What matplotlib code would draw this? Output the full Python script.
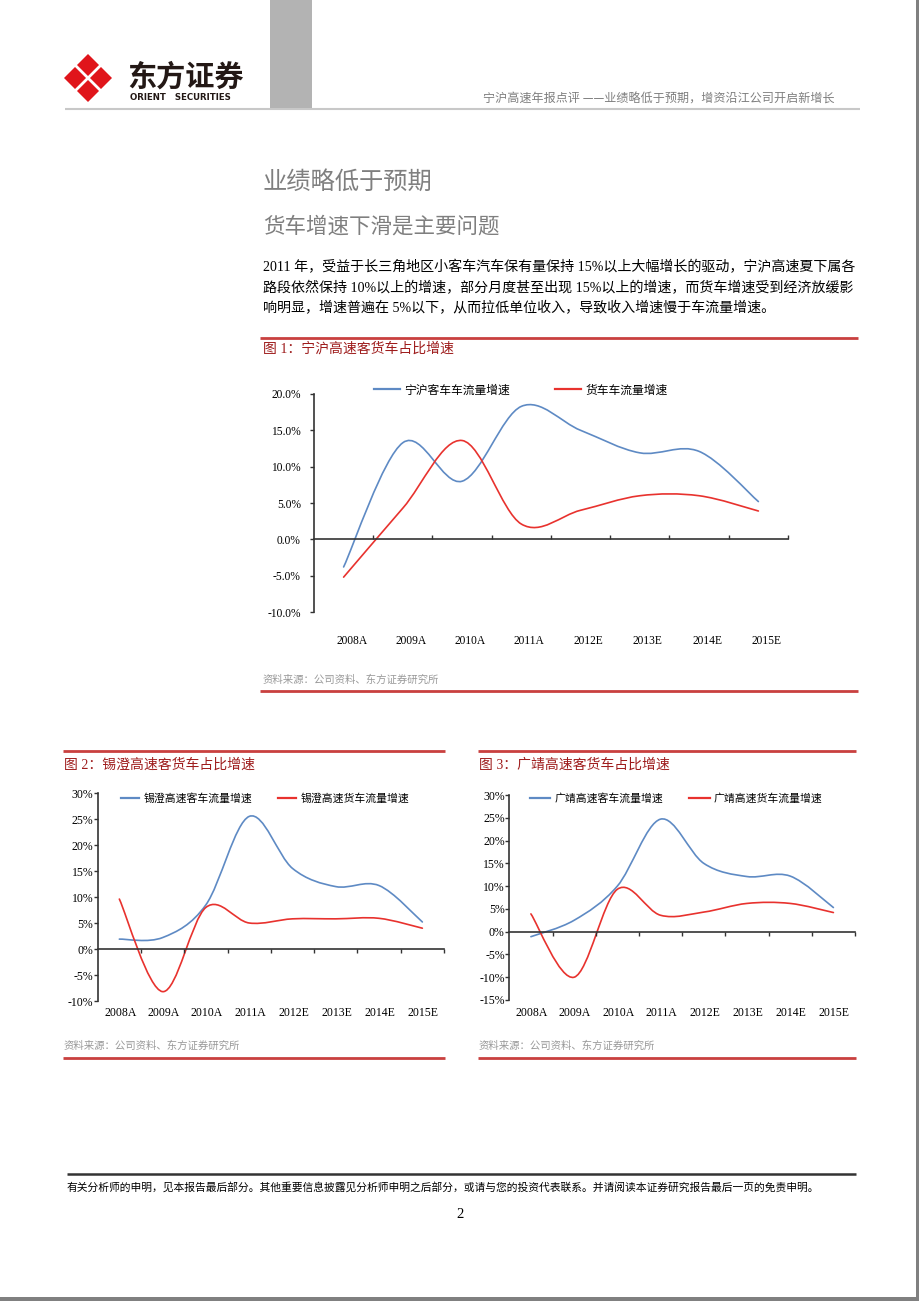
import matplotlib
matplotlib.use('Agg')
import matplotlib.pyplot as plt
import matplotlib.transforms as mtransforms
import numpy as np
from matplotlib.path import Path
from matplotlib.patches import PathPatch, Polygon, Rectangle
from matplotlib.lines import Line2D
from matplotlib.ticker import FuncFormatter

plt.rcParams['font.family'] = ['Noto Sans CJK SC', 'DejaVu Sans']

W, H = 920, 1301
BLUE = '#5E8AC4'
RED = '#E8322E'
DARKRED = '#9E1C1C'
RULE = '#C9403F'
GRAY = '#7F7F7F'
SERIF = ['Liberation Serif', 'Noto Sans CJK SC']

years = ['2008A', '2009A', '2010A', '2011A', '2012E', '2013E', '2014E', '2015E']

# fig 1: 宁沪高速
nh_names = ['宁沪客车车流量增速', '货车车流量增速']
nh_bus = [-3.8, 13.3, 8.0, 18.3, 15.0, 11.9, 12.1, 5.2]
nh_truck = [-5.2, 4.3, 13.6, 2.1, 4.0, 6.0, 6.0, 3.9]

# fig 2: 锡澄高速
xc_names = ['锡澄高速客车流量增速', '锡澄高速货车流量增速']
xc_bus = [1.9, 2.2, 8.5, 25.5, 15.5, 12.0, 12.2, 5.2]
xc_truck = [9.6, -8.2, 8.0, 5.0, 5.8, 5.8, 5.9, 4.0]

# fig 3: 广靖高速
gj_names = ['广靖高速客车流量增速', '广靖高速货车流量增速']
gj_bus = [-1.1, 2.5, 10.0, 24.7, 15.0, 12.1, 12.2, 5.3]
gj_truck = [3.9, -10.0, 9.3, 3.6, 4.3, 6.2, 6.2, 4.2]

header = '宁沪高速年报点评 ——业绩略低于预期，增资沿江公司开启新增长'
title1 = '业绩略低于预期'
title2 = '货车增速下滑是主要问题'
para = ['2011 年，受益于长三角地区小客车汽车保有量保持 15%以上大幅增长的驱动，宁沪高速夏下属各',
        '路段依然保持 10%以上的增速，部分月度甚至出现 15%以上的增速，而货车增速受到经济放缓影',
        '响明显，增速普遍在 5%以下，从而拉低单位收入，导致收入增速慢于车流量增速。']
source = '资料来源：公司资料、东方证券研究所'
footer = '有关分析师的申明，见本报告最后部分。其他重要信息披露见分析师申明之后部分，或请与您的投资代表联系。并请阅读本证券研究报告最后一页的免责申明。'


def smooth(x, y):
    # excel-style smoothed line: bezier through every point
    pts = np.column_stack([np.asarray(x, float), np.asarray(y, float)])
    n = len(pts)
    verts = [pts[0]]
    codes = [Path.MOVETO]
    for i in range(n - 1):
        p0 = pts[max(i - 1, 0)]
        p1, p2 = pts[i], pts[i + 1]
        p3 = pts[min(i + 2, n - 1)]
        verts += [p1 + (p2 - p0) / 6, p2 - (p3 - p1) / 6, p2]
        codes += [Path.CURVE4] * 3
    return Path(verts, codes)


fig = plt.figure(figsize=(W / 100, H / 100), dpi=100)

# page layer in pixel units
bg = fig.add_axes([0, 0, 1, 1])
bg.set_xlim(0, W)
bg.set_ylim(H, 0)
bg.axis('off')


def hline(y, x0, x1, color, lw):
    bg.plot([x0, x1], [y, y], color=color, lw=lw, solid_capstyle='butt')


# header
bg.add_patch(Rectangle((270, 0), 42, 108, color='#B3B3B3', lw=0))
hline(109, 65, 860, '#C8C8C8', 1.5)
bg.add_patch(Polygon([(88, 54), (112, 78), (88, 102), (64, 78)], closed=True, color='#E0151B', lw=0))
bg.plot([76, 100], [66, 90], color='white', lw=2.0)
bg.plot([100, 76], [66, 90], color='white', lw=2.0)
bg.text(127, 77, '东方证券', fontsize=21, fontweight='bold', color='#231815', va='center')
bg.text(130, 98, 'ORIENT   SECURITIES', fontsize=6.2, fontweight='bold', color='#231815', va='center',
        family='DejaVu Sans')
bg.text(835, 99, header, fontsize=8.7, color=GRAY, ha='right', va='center')

# page border
bg.add_patch(Rectangle((916, 0), 4, H, color='#808080', lw=0))
bg.add_patch(Rectangle((0, 1297), W, 4, color='#808080', lw=0))

# body text
bg.text(263, 182, title1, fontsize=17.5, color=GRAY, va='center')
bg.text(263, 227, title2, fontsize=15.5, color=GRAY, va='center')
for y, line in zip([267, 288, 308], para):
    bg.text(263, y, line, fontsize=10.1, color='black', va='center', family=SERIF)

hline(338, 260, 858, RULE, 2)
bg.text(263, 349, '图 1：宁沪高速客货车占比增速', fontsize=10, color=DARKRED, va='center', family=SERIF)
bg.text(263, 680, source, fontsize=7.5, color='#999999', va='center')
hline(691, 260, 858, RULE, 2)

for x0, x1, num, name in [(63, 445, 2, '锡澄'), (478, 856, 3, '广靖')]:
    hline(751, x0, x1, RULE, 2)
    bg.text(x0 + 1, 765, f'图 {num}：{name}高速客货车占比增速', fontsize=10, color=DARKRED,
            va='center', family=SERIF)
    bg.text(x0 + 1, 1046, source, fontsize=7.5, color='#999999', va='center')
    hline(1058, x0, x1, RULE, 2)

# footer
hline(1174, 67, 856, '#333333', 1.8)
bg.text(67, 1187, footer, fontsize=7.75, color='black', va='center')
bg.text(460, 1215, '2', fontsize=10.5, color='black', ha='center', va='center', family=SERIF)


def draw_chart(px, bus, truck, names, ylim, step, fmt, label_y, label_dx, xdir,
               tick_fs, ypad, legend_xy, leg_kw):
    x0, y0, x1, y1 = px
    ax = fig.add_axes([x0 / W, 1 - y1 / H, (x1 - x0) / W, (y1 - y0) / H])
    ax.patch.set_alpha(0)
    xs = np.arange(len(years))
    for vals, c in ((bus, BLUE), (truck, RED)):
        ax.add_patch(PathPatch(smooth(xs, vals), fill=False, edgecolor=c, lw=1.2,
                               capstyle='round', joinstyle='round'))
    ax.set_xlim(-0.5, len(years) - 0.5)
    ax.set_ylim(*ylim)
    ax.set_yticks(np.arange(ylim[0], ylim[1] + 0.01, step))
    ax.yaxis.set_major_formatter(FuncFormatter(lambda v, p: fmt.format(v)))
    for lab in ax.get_yticklabels():
        lab.set_family(SERIF)
    for s in ('top', 'right'):
        ax.spines[s].set_visible(False)
    for s in ('left', 'bottom'):
        ax.spines[s].set_color('#333333')
        ax.spines[s].set_linewidth(1.2)
    ax.spines['bottom'].set_position(('data', 0))
    ax.set_xticks(np.arange(0.5, len(years)))
    ax.tick_params(axis='x', direction=xdir, length=3, width=1, color='#333333', labelbottom=False)
    ax.tick_params(axis='y', direction='out', length=3, width=1, color='#333333',
                   labelsize=tick_fs, pad=ypad)
    off = mtransforms.ScaledTranslation(label_dx / 100, 0, fig.dpi_scale_trans)
    for i, lab in enumerate(years):
        ax.text(i, label_y, lab, transform=ax.get_xaxis_transform() + off, ha='center',
                va='center', family=SERIF, fontsize=tick_fs)
    handles = [Line2D([], [], color=BLUE, lw=1.6), Line2D([], [], color=RED, lw=1.6)]
    ax.legend(handles, names, loc='center', ncol=2, frameon=False,
              bbox_to_anchor=(legend_xy[0] / W, 1 - legend_xy[1] / H),
              bbox_transform=fig.transFigure, borderpad=0, handletextpad=0.35, **leg_kw)
    return ax


draw_chart((314, 394, 788, 612), nh_bus, nh_truck, nh_names, (-10, 20), 5, '{:.1f}%',
           -0.133, 8, 'in', 8.3, 6.5, (521, 390),
           dict(fontsize=8.5, handlelength=2.2, columnspacing=3.8))
draw_chart((97.7, 793, 444, 1001), xc_bus, xc_truck, xc_names, (-10, 30), 5, '{:.0f}%',
           -0.056, 1, 'out', 8.5, 0.3, (265, 798),
           dict(fontsize=7.8, handlelength=1.7, columnspacing=2.4))
draw_chart((509.3, 795, 855, 1000), gj_bus, gj_truck, gj_names, (-15, 30), 5, '{:.0f}%',
           -0.062, 1, 'out', 8.5, 0.3, (676, 798),
           dict(fontsize=7.8, handlelength=1.9, columnspacing=2.4))

fig.savefig('out.png', dpi=100)
